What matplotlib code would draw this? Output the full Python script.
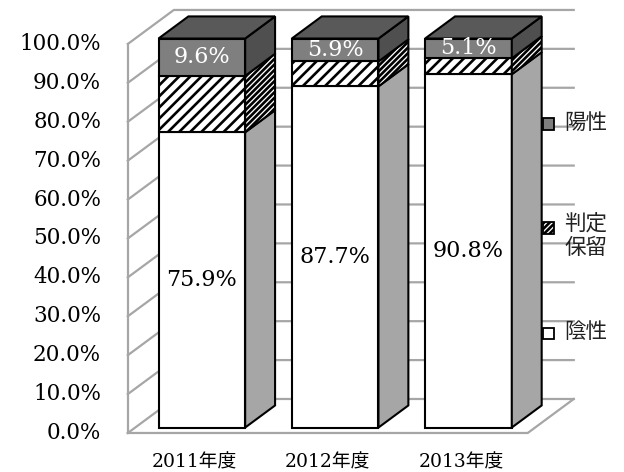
import numpy as np
import matplotlib.pyplot as plt
from matplotlib.patches import Polygon, Rectangle

plt.rcParams['hatch.linewidth'] = 1.9
plt.rcParams['font.family'] = ['DejaVu Serif', 'Noto Sans CJK JP']

# data (percent of cases per fiscal year)
years = ['2011年度', '2012年度', '2013年度']
negative = [75.9, 87.7, 90.8]    # 陰性
pending = [14.5, 6.4, 4.1]       # 判定保留
positive = [9.6, 5.9, 5.1]       # 陽性
series_names = ['陰性', '判定保留', '陽性']
yticks = np.arange(0, 101, 10)

# fake-3d geometry (category units on x, percent on y)
DX, DY = 0.345, 8.74          # full floor depth offset
Z0, Z1 = 0.16, 0.81           # bar front / back depth
BAR_W = 0.65
X_LO, X_HI = -0.5, 2.5

front_colors = ['white', 'white', '#7f7f7f']
side_colors = ['#a6a6a6', 'white', '#4f4f4f']
front_hatch = [None, '///', None]
side_hatch = [None, '//////', None]
top_color = '#595959'
wall_color = '#a6a6a6'


def proj(x, y, z):
    return (x + z * DX, y + z * DY)


fig = plt.figure(figsize=(6.24, 4.72), dpi=100)
ax = fig.add_axes([0, 0, 1, 1])
ax.set_xlim(-1.459, 3.222)
ax.set_ylim(-10.03, 111.3)
ax.axis('off')

# walls and gridlines
for v in yticks:
    pts = [proj(X_LO, v, 0), proj(X_LO, v, 1), proj(X_HI, v, 1)]
    ax.plot(*zip(*pts), color=wall_color, lw=1.6, zorder=1)
    ax.text(X_LO - 0.2, v, f'{v:.1f}%', ha='right', va='center',
            fontsize=15.5, zorder=5)
ax.plot(*zip(proj(X_LO, 0, 0), proj(X_LO, 100, 0)), color=wall_color, lw=1.6, zorder=1)
floor = [proj(X_LO, 0, 0), proj(X_HI, 0, 0), proj(X_HI, 0, 1)]
ax.plot(*zip(*floor), color=wall_color, lw=1.6, zorder=1)

# stacked bars
data = np.array([negative, pending, positive])
for i, name in enumerate(years):
    x0, x1 = i - BAR_W / 2, i + BAR_W / 2
    bottom = 0
    for s in range(3):
        h = data[s, i]
        top = bottom + h
        front = [proj(x0, bottom, Z0), proj(x1, bottom, Z0),
                 proj(x1, top, Z0), proj(x0, top, Z0)]
        side = [proj(x1, bottom, Z0), proj(x1, bottom, Z1),
                proj(x1, top, Z1), proj(x1, top, Z0)]
        ax.add_patch(Polygon(front, closed=True, facecolor=front_colors[s],
                             edgecolor='black', lw=1.5, hatch=front_hatch[s], zorder=3))
        ax.add_patch(Polygon(side, closed=True, facecolor=side_colors[s],
                             edgecolor='black', lw=1.5, hatch=side_hatch[s], zorder=3))
        bottom = top
    lid = [proj(x0, bottom, Z0), proj(x1, bottom, Z0),
           proj(x1, bottom, Z1), proj(x0, bottom, Z1)]
    ax.add_patch(Polygon(lid, closed=True, facecolor=top_color,
                         edgecolor='black', lw=1.5, zorder=3))

    # value labels on negative and positive segments
    cx, cy = proj(i, negative[i] / 2, Z0)
    ax.text(cx, cy, f'{negative[i]:.1f}%', ha='center', va='center',
            fontsize=16, zorder=6)
    cx, cy = proj(i, 100 - positive[i] / 2, Z0)
    ax.text(cx, cy, f'{positive[i]:.1f}%', ha='center', va='center',
            fontsize=16, color='white', zorder=6)

    # category label
    ax.text(i, -7.5, name, ha='center', va='center', fontsize=13.5)

# legend
legend_items = [('陽性', 0.737, '#7f7f7f', None),
                ('判定\n保留', 0.517, 'white', '//////'),
                ('陰性', 0.294, 'white', None)]
for label, ly, fc, hatch in legend_items:
    ax.add_patch(Rectangle((0.870, ly - 0.012), 0.018, 0.024, transform=ax.transAxes,
                           facecolor=fc, edgecolor='black', lw=1.3, hatch=hatch, zorder=6))
    multi = '\n' in label
    ax.text(0.904, ly + (0.033 if multi else 0.002), label, transform=ax.transAxes,
            ha='left', va='top' if multi else 'center',
            fontsize=15.5, family='Noto Sans CJK JP', color='#222222', linespacing=1.15,
            zorder=6)

fig.savefig('out.png', dpi=100)
